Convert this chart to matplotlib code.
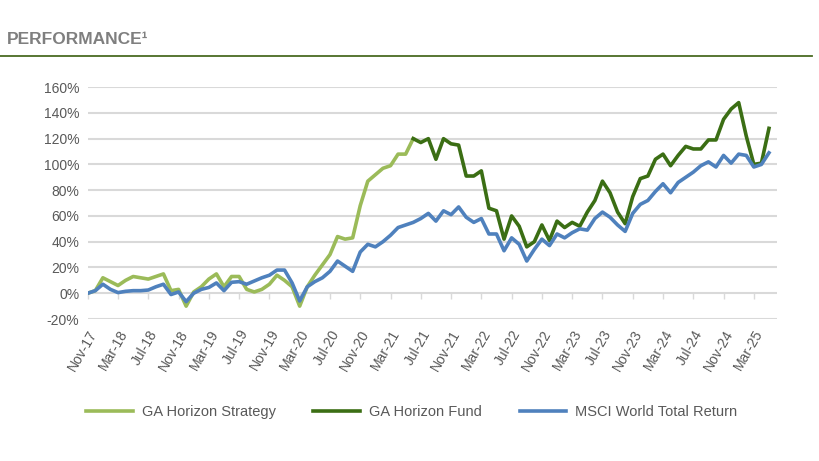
import matplotlib
matplotlib.use("Agg")
import matplotlib.pyplot as plt
import pandas as pd

strategy = [0, 2, 12, 9, 6, 10, 13, 12, 11, 13, 15, 2, 3, -10, 1, 5, 11, 15, 5, 13,
            13, 3, 1, 3, 7, 14, 10, 5, -10, 5, 14, 22, 30, 44, 42, 43, 68, 87, 92, 97,
            99, 108, 108, 120]
fund = [120, 117, 120, 104, 120, 116, 115, 91, 91, 95, 66, 64, 42, 60, 52, 36, 40, 53, 41, 56,
        51, 55, 52, 63, 72, 87, 78, 63, 54, 75, 89, 91, 104, 108, 99, 107, 114, 112, 112, 119,
        119, 135, 143, 148, 122, 100, 101, 128]
msci = [0, 2, 7, 3, 0.5, 1.5, 2, 2, 2.5, 5, 7, -1, 1, -6.5, 0, 3, 4.5, 8, 2, 8.5,
        9, 7, 9.5, 12, 14, 18, 18, 8, -6, 5, 9, 12, 17, 25, 21, 17, 32, 38, 36, 40,
        45, 51, 53,
        55, 58, 62, 56, 64, 61, 67, 59, 55, 58, 46, 46, 33, 43, 38, 25, 34, 42, 37, 46,
        43, 47, 50, 49, 58, 63, 59, 53, 48, 62, 69, 72, 79, 85, 78, 86, 90, 94, 99, 102,
        98, 107, 101, 108, 107, 98, 100, 109]
months = pd.date_range("2017-11-01", periods=len(msci), freq="MS")
tick_labels = [d.strftime("%b-%y") for d in months[::4]]
yticks = list(range(-20, 161, 20))

idx = list(range(len(msci)))
fund_idx = idx[len(strategy) - 1:]

fig = plt.figure(figsize=(8.2, 4.61), dpi=100)
fig.text(0.008, 0.905, "PERFORMANCE¹", fontsize=12.5, fontweight="bold", color="#7F7F7F",
         family="Liberation Sans")
fig.add_artist(plt.Line2D([0.0, 0.99], [0.878, 0.878], color="#4A6B22", lw=1.3))

ax = fig.add_axes([0.107, 0.308, 0.84, 0.503])
for y in yticks:
    ax.axhline(y, color="#D9D9D9", lw=1.5, zorder=0)
ax.plot(idx[:len(strategy)], strategy, color="#9BBB59", lw=2.6, label="GA Horizon Strategy", solid_joinstyle="round")
ax.plot(fund_idx, fund, color="#3B6E14", lw=2.6, label="GA Horizon Fund", solid_joinstyle="round")
ax.plot(idx, msci, color="#4F81BD", lw=2.6, label="MSCI World Total Return", solid_joinstyle="round")
ax.set_xlim(0, 91)
ax.set_ylim(-20, 160)
ax.set_yticks(yticks)
ax.set_yticklabels([f"{v}%" for v in yticks], color="#595959", fontsize=10, family="Liberation Sans")
ax.set_xticks(idx[::4])
ax.set_xticklabels(tick_labels, rotation=60, ha="right", rotation_mode="anchor",
                   color="#595959", fontsize=10, family="Liberation Sans")
ax.tick_params(axis="both", length=0, pad=6)
for s in ax.spines.values():
    s.set_visible(False)
sec = ax.secondary_xaxis(20 / 180)
sec.set_xticks(idx[::4])
sec.set_xticklabels([])
sec.tick_params(direction="out", length=4, color="#D9D9D9", width=1)
sec.spines["bottom"].set_visible(False)
sec.spines["top"].set_visible(False)

fig.legend(loc="center", bbox_to_anchor=(0.502, 0.106), ncol=3, frameon=False,
           handlelength=3.2, handletextpad=0.6, columnspacing=2.6,
           prop={"family": "Liberation Sans", "size": 10.5}, labelcolor="#595959")
fig.savefig("out.png", dpi=100)
